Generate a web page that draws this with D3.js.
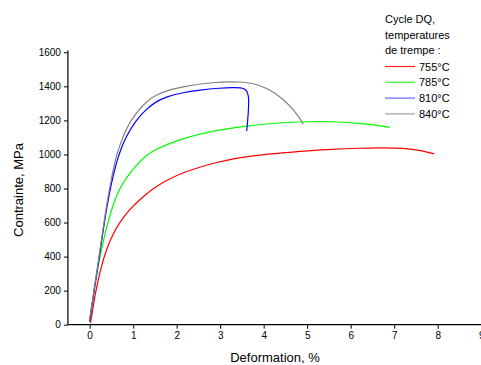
<!DOCTYPE html>
<html><head><meta charset="utf-8">
<script src="https://cdn.jsdelivr.net/npm/d3@7"></script>
<style>body{margin:0;background:#fff}svg{display:block;font-family:"Liberation Sans",Arial,sans-serif}</style>
</head><body><svg id="c" width="481" height="365"></svg>
<script>
const seriesNames = ["755°C", "785°C", "810°C", "840°C"];
const seriesColors = ["#ff0000", "#00ff00", "#0000ff", "#808080"];
const legendColors = ["#ff2020", "#33ff33", "#6666ff", "#a0a0a0"];
const strain755 = [0.02,0.08,0.15,0.26,0.375,0.53,0.68,0.91,1.22,1.52,1.77,2.15,2.92,3.69,4.37,5.06,5.52,6.2,6.67,7.21,7.67,7.92];
const stress755 = [10,105,210,335,435,530,598,676,752,810,848,896,957,991,1009,1022,1030,1037,1040,1038,1022,1003];
const strain785 = [0.0,0.06,0.145,0.26,0.375,0.53,0.68,0.82,1.06,1.3,1.52,1.77,2.15,2.92,3.61,4.37,5.06,5.52,6.29,6.9];
const stress785 = [20,140,280,430,560,700,795,855,935,995,1030,1058,1095,1144,1167,1187,1193,1194,1183,1159];
const strain810 = [0.0,0.1,0.2,0.3,0.4,0.5,0.6,0.72,0.85,1.06,1.3,1.52,1.77,2.1,2.54,3.0,3.3,3.48,3.58,3.64,3.66,3.65,3.63,3.61];
const stress810 = [20,190,360,535,700,830,940,1036,1110,1200,1265,1310,1339,1362,1379,1390,1394,1392,1385,1360,1320,1260,1190,1138];
const strain840 = [0.0,0.1,0.2,0.3,0.4,0.5,0.6,0.68,0.85,1.06,1.3,1.52,1.8,2.15,2.5,2.92,3.2,3.46,3.76,4.07,4.45,4.76,4.91];
const stress840 = [30,200,375,550,720,860,980,1045,1160,1242,1310,1349,1378,1398,1413,1424,1427,1427,1418,1392,1328,1242,1178];
const xTicks = [0,1,2,3,4,5,6,7,8,9];
const yTicks = [0,200,400,600,800,1000,1200,1400,1600];
const legendTitle = ["Cycle DQ,", "temperatures", "de trempe :"];

const strains = [strain755, strain785, strain810, strain840];
const stresses = [stress755, stress785, stress810, stress840];

const svg = d3.select("#c");
const x = d3.scaleLinear().domain([-0.5, 9]).range([67.9, 481.2]);
const y = d3.scaleLinear().domain([0, 1600]).range([324.7, 52.3]);

const gx = svg.append("g").attr("transform", "translate(0,324.7)");
gx.call(d3.axisBottom(x).tickValues(d3.range(-0.5, 9.01, 0.5)).tickSize(4).tickFormat(""));
gx.call(d3.axisBottom(x).tickValues(xTicks).tickSize(4).tickFormat(d3.format("d")));
gx.selectAll(".domain").attr("d", "M67.9,0H481").attr("stroke", "#000").attr("stroke-width", 1.2);
gx.selectAll("line").attr("stroke", "#000");
gx.selectAll("text").attr("font-size", 10).attr("fill", "#000").attr("font-family", "Liberation Sans, Arial, sans-serif");

const gy = svg.append("g").attr("transform", "translate(67.9,0)");
gy.call(d3.axisLeft(y).tickValues(d3.range(0, 1601, 100)).tickSize(4).tickFormat(""));
gy.call(d3.axisLeft(y).tickValues(yTicks).tickSize(4).tickFormat(d3.format("d")));
gy.selectAll(".domain").attr("d", "M0,324.7V50.5").attr("stroke", "#000").attr("stroke-width", 1.2);
gy.selectAll("line").attr("stroke", "#000");
gy.selectAll("text").attr("font-size", 10).attr("fill", "#000").attr("font-family", "Liberation Sans, Arial, sans-serif");

const line = d3.line().x(d => x(d[0])).y(d => y(d[1])).curve(d3.curveBasis);
seriesNames.forEach((n, i) => {
  const pts = strains[i].map((s, j) => [s, stresses[i][j]]);
  svg.append("path").attr("d", line(pts)).attr("fill", "none")
    .attr("stroke", seriesColors[i]).attr("stroke-width", 1.2);
});

svg.append("text").attr("x", 275).attr("y", 362).attr("text-anchor", "middle")
  .attr("font-size", 13).text("Deformation, %");
svg.append("text").attr("transform", "translate(23,190) rotate(-90)").attr("text-anchor", "middle")
  .attr("font-size", 13).text("Contrainte, MPa");

const lg = svg.append("g");
legendTitle.forEach((t, i) => {
  lg.append("text").attr("x", 385).attr("y", 23 + i * 15.5).attr("font-size", 11).text(t);
});
seriesNames.forEach((n, i) => {
  const yy = 66.5 + i * 15.8;
  lg.append("line").attr("x1", 385).attr("x2", 415).attr("y1", yy).attr("y2", yy)
    .attr("stroke", legendColors[i]).attr("stroke-width", 1.2);
  lg.append("text").attr("x", 419).attr("y", yy + 4).attr("font-size", 11).text(n);
});
</script></body></html>
